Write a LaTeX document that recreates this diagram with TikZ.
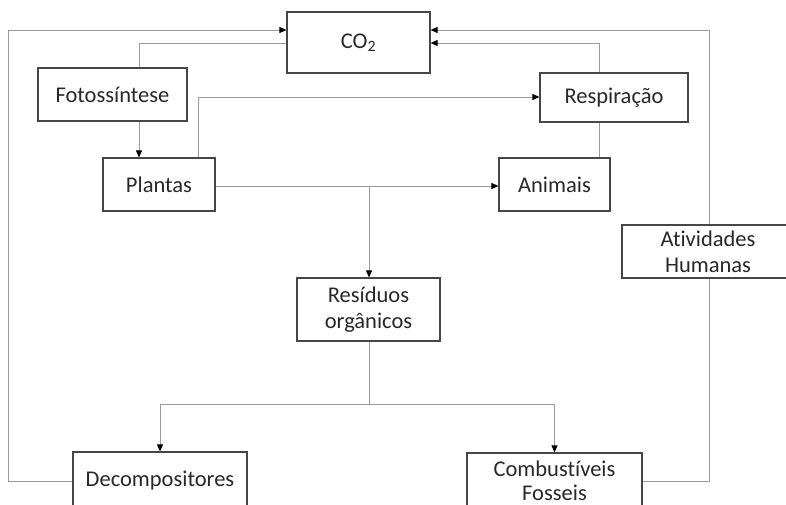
\documentclass[tikz,border=0pt]{standalone}
\usepackage{fontspec}
\setmainfont{Carlito}[Ligatures=NoCommon]
\usetikzlibrary{arrows.meta}
\definecolor{boxc}{RGB}{70,70,70}
\definecolor{linec}{RGB}{155,155,155}
\definecolor{txtc}{RGB}{40,40,40}
\begin{document}
\begin{tikzpicture}[x=1pt,y=-1pt,
  boxnode/.style={draw=boxc,line width=1.2pt,fill=white,text=txtc,align=center,
    inner sep=0pt,font=\fontsize{22.5}{26}\selectfont},
  conn/.style={draw=linec,line width=0.9pt},
  arr/.style={conn,-{Triangle[length=7pt,width=6pt,color=black]}}]
\useasboundingbox (0,0) rectangle (786,504);
\clip (0,0) rectangle (786,504);
% nodes
\node[boxnode,minimum width=143pt,minimum height=61pt] (co2) at (358.5,42.5) {CO\textsubscript{2}};
\node[boxnode,minimum width=149pt,minimum height=53pt] (foto) at (112.5,94.5) {Fotossíntese};
\node[boxnode,minimum width=112pt,minimum height=53pt] (plantas) at (159,184.5) {Plantas};
\node[boxnode,minimum width=148pt,minimum height=49pt] (resp) at (614,97.5) {Respiração};
\node[boxnode,minimum width=111pt,minimum height=53pt] (animais) at (554.5,184.5) {Animais};
\node[boxnode,minimum width=143pt,minimum height=63pt] (resid) at (368.5,309.5) {Resíduos\\orgânicos};
\node[boxnode,minimum width=174pt,minimum height=58pt] (decomp) at (160,481) {Decompositores};
\node[boxnode,minimum width=175pt,minimum height=56pt,font=\fontsize{22.5}{24.5}\selectfont] (comb) at (554.5,481) {Combustíveis\\Fosseis};
% coordinates
\coordinate (lft) at (8,30);
\coordinate (rgt) at (709,30);
\coordinate (cf) at (139,43);
\coordinate (cp) at (198,97);
\coordinate (cr) at (599,43);
\coordinate (br) at (369,186);
\coordinate (sp) at (369,404);
% connectors
\draw[arr] (decomp.west) -| (lft) -- (co2.west |- lft);
\draw[conn] (co2.west |- cf) -| (foto.north -| cf);
\draw[arr] (foto.south -| cf) -- (plantas.north -| cf);
\draw[arr] (plantas.north -| cp) |- (resp.west |- cp);
\draw[arr] (resp.north -| cr) |- (co2.east |- cr);
\draw[conn] (animais.north -| cr) -- (resp.south -| cr);
\draw[arr] (plantas.east |- br) -- (animais.west |- br);
\draw[arr] (br) -- (resid.north -| br);
\draw[conn] (resid.south -| sp) -- (sp);
\draw[arr] (sp) -| (decomp.north);
\draw[arr] (sp) -| (comb.north);
\draw[arr] (comb.east |- 0,481) -| (rgt) -- (co2.east |- rgt);
\node[boxnode,minimum width=172pt,minimum height=53pt] (ativ) at (708,251.5) {Atividades\\Humanas};
\end{tikzpicture}
\end{document}
